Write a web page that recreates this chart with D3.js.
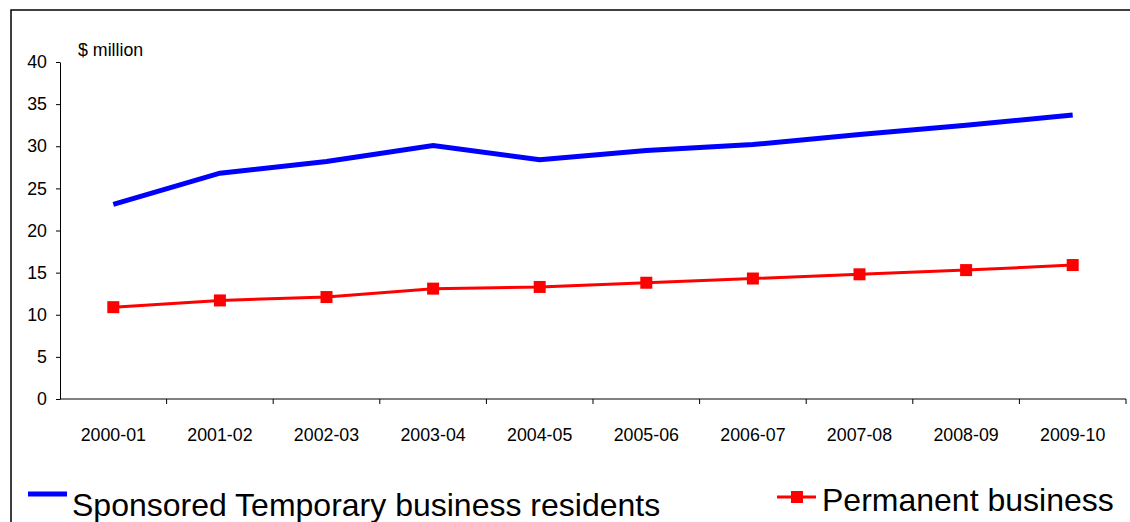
<!DOCTYPE html>
<html>
<head>
<meta charset="utf-8">
<script src="https://cdn.jsdelivr.net/npm/d3@7"></script>
<style>
  body { margin: 0; background: #fff; }
  svg { display: block; font-family: "Liberation Sans", Arial, sans-serif; }
  .axis path, .axis line { stroke: #000; stroke-width: 1; }
  .axis text { font-size: 17.8px; fill: #000; }
</style>
</head>
<body>
<div id="chart"></div>
<script>
const years = ['2000-01', '2001-02', '2002-03', '2003-04', '2004-05', '2005-06', '2006-07', '2007-08', '2008-09', '2009-10'];
const temporary = [23.1, 26.8, 28.2, 30.1, 28.4, 29.5, 30.2, 31.4, 32.5, 33.7];
const permanent = [10.9, 11.7, 12.1, 13.1, 13.3, 13.8, 14.3, 14.8, 15.3, 15.9];
const yTicks = [0, 5, 10, 15, 20, 25, 30, 35, 40];

const W = 1130, H = 522;
const svg = d3.select('#chart').append('svg')
    .attr('width', W).attr('height', H);

// frame of the chart area (cut at right and bottom)
svg.append('path')
    .attr('d', `M11,${H} L11,10 L${W},10`)
    .attr('fill', 'none').attr('stroke', '#000').attr('stroke-width', 1.5);

const x = d3.scaleBand().domain(years).range([60, 1126]);
const y = d3.scaleLinear().domain([0, 40]).range([399, 62]);
const cx = d => x(d) + x.bandwidth() / 2;

// Y axis
svg.append('g')
    .attr('class', 'axis')
    .attr('transform', 'translate(60,0)')
    .call(d3.axisLeft(y).tickValues(yTicks).tickSize(4).tickSizeOuter(0).tickPadding(9));

// X axis with ticks between categories
const xAxis = svg.append('g')
    .attr('class', 'axis')
    .attr('transform', 'translate(0,399)');
xAxis.append('line').attr('x1', 60).attr('x2', 1126).attr('y1', 0).attr('y2', 0);
xAxis.selectAll('.tk')
    .data(years)
    .enter().append('line')
    .attr('x1', d => x(d) + x.bandwidth()).attr('x2', d => x(d) + x.bandwidth())
    .attr('y1', 0).attr('y2', 5);
xAxis.selectAll('text')
    .data(years)
    .enter().append('text')
    .attr('x', d => cx(d))
    .attr('y', 42)
    .attr('text-anchor', 'middle')
    .text(d => d);

svg.append('text')
    .attr('x', 78).attr('y', 56)
    .attr('font-size', 17.8)
    .text('$ million');

// Lines
const line = d3.line()
    .x((d, i) => cx(years[i]))
    .y(d => y(d));

svg.append('path')
    .datum(temporary)
    .attr('fill', 'none').attr('stroke', '#0000ff').attr('stroke-width', 5)
    .attr('d', line);

svg.append('path')
    .datum(permanent)
    .attr('fill', 'none').attr('stroke', '#ff0000').attr('stroke-width', 3)
    .attr('d', line);

svg.selectAll('.dot')
    .data(permanent)
    .enter().append('rect')
    .attr('class', 'dot')
    .attr('x', (d, i) => cx(years[i]) - 6)
    .attr('y', d => y(d) - 6)
    .attr('width', 12).attr('height', 12)
    .attr('fill', '#ff0000');

// Legend
const legend = svg.append('g');
legend.append('line')
    .attr('x1', 28).attr('x2', 67).attr('y1', 494).attr('y2', 494)
    .attr('stroke', '#0000ff').attr('stroke-width', 5);
legend.append('text')
    .attr('x', 72).attr('y', 516)
    .attr('font-size', 32)
    .text('Sponsored Temporary business residents');

legend.append('line')
    .attr('x1', 777).attr('x2', 816).attr('y1', 497).attr('y2', 497)
    .attr('stroke', '#ff0000').attr('stroke-width', 3);
legend.append('rect')
    .attr('x', 791).attr('y', 491).attr('width', 12).attr('height', 12)
    .attr('fill', '#ff0000');
legend.append('text')
    .attr('x', 822).attr('y', 511)
    .attr('font-size', 32)
    .text('Permanent business');
</script>
</body>
</html>
